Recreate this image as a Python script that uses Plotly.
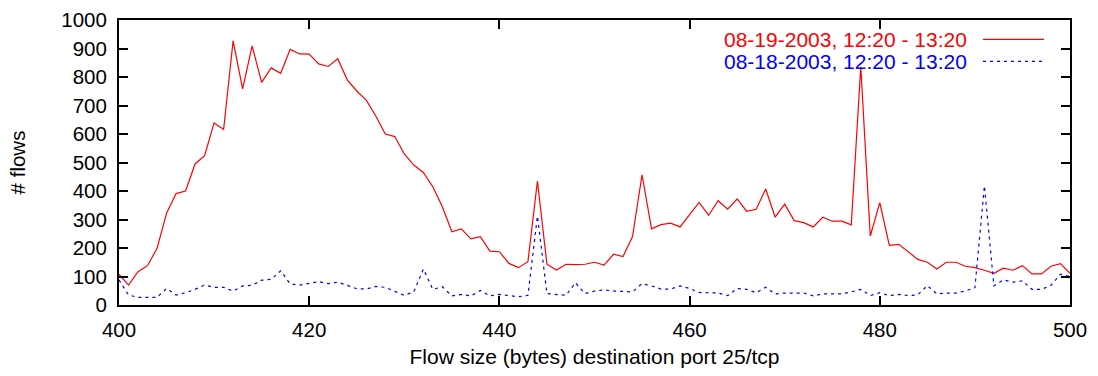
import plotly.graph_objects as go

x_sizes = list(range(400, 501))

flows_0819 = [
    108, 70, 117, 138, 199, 322, 391, 400, 495, 524,
    639, 616, 927, 758, 909, 781, 832, 813, 897, 881,
    880, 846, 837, 864, 790, 751, 719, 663, 600, 591,
    530, 491, 465, 415, 345, 257, 267, 232, 240, 189,
    187, 146, 131, 152, 435, 143, 123, 143, 142, 143,
    150, 140, 178, 170, 240, 457, 267, 282, 287, 274,
    317, 360, 315, 366, 336, 372, 329, 336, 407, 308,
    354, 296, 289, 274, 308, 294, 294, 281, 836, 242,
    359, 209, 213, 187, 160, 150, 126, 150, 150, 136,
    131, 122, 111, 129, 122, 138, 109, 109, 136, 145,
    111,
]

flows_0818 = [
    88, 35, 27, 27, 27, 58, 35, 43, 55, 70,
    62, 62, 49, 67, 69, 87, 90, 120, 74, 70,
    75, 82, 75, 80, 69, 57, 56, 65, 62, 47,
    34, 46, 126, 55, 64, 32, 37, 32, 51, 32,
    37, 33, 29, 34, 312, 40, 37, 34, 78, 40,
    49, 53, 49, 47, 46, 75, 67, 56, 56, 67,
    58, 44, 43, 42, 33, 58, 55, 43, 62, 39,
    42, 42, 42, 32, 39, 39, 39, 46, 55, 33,
    43, 33, 37, 33, 36, 68, 39, 42, 42, 49,
    61, 418, 67, 88, 80, 85, 55, 55, 69, 108,
    100,
]

legend_labels = ["08-19-2003, 12:20 - 13:20", "08-18-2003, 12:20 - 13:20"]
colors = ["#ff0000", "#0000ff"]
x_ticks = [400, 420, 440, 460, 480, 500]
y_ticks = list(range(0, 1001, 100))

FONT = "Liberation Sans, Arial, sans-serif"

fig = go.Figure()
fig.add_trace(go.Scatter(x=x_sizes, y=flows_0819, mode="lines",
                         line=dict(color=colors[0], width=1.2),
                         name=legend_labels[0], showlegend=False))
fig.add_trace(go.Scatter(x=x_sizes, y=flows_0818, mode="lines",
                         line=dict(color=colors[1], width=1.2, dash="3px,4px"),
                         name=legend_labels[1], showlegend=False))

# legend drawn gnuplot-style: text right, sample line to its right
leg_y = [0.932, 0.855]
dashes = ["solid", "3px,4px"]
for lab, col, yy, dsh in zip(legend_labels, colors, leg_y, dashes):
    fig.add_annotation(x=0.8927, y=yy, xref="paper", yref="paper",
                       text=lab, showarrow=False, xanchor="right", yanchor="middle",
                       borderpad=0, font=dict(family=FONT, size=21, color=col))
    fig.add_shape(type="line", xref="paper", yref="paper",
                  x0=0.9085, x1=0.9727, y0=yy, y1=yy,
                  line=dict(color=col, width=1.2, dash=dsh))

axis_common = dict(showline=True, linecolor="black", linewidth=2, mirror="ticks",
                   ticks="inside", ticklen=9, tickwidth=1.5, tickcolor="black",
                   showgrid=False, zeroline=False, automargin=False,
                   tickfont=dict(family=FONT, size=20.5, color="black"))

fig.update_xaxes(range=[400, 500], tickvals=x_ticks, ticklabelstandoff=5,
                 title=dict(text="Flow size (bytes) destination port 25/tcp",
                            font=dict(family=FONT, size=21, color="black"), standoff=10),
                 **axis_common)
fig.update_yaxes(range=[0, 1000], tickvals=y_ticks, ticklabelstandoff=6,
                 title=dict(text="# flows",
                            font=dict(family=FONT, size=20.5, color="black"), standoff=30),
                 **axis_common)

fig.update_layout(width=1098, height=376,
                  margin=dict(l=119, r=28, t=20, b=71),
                  plot_bgcolor="white", paper_bgcolor="white",
                  showlegend=False)

fig.write_html("out.html", config={"displayModeBar": False},
               post_script="document.body.style.margin='0';document.body.style.overflow='hidden';")
